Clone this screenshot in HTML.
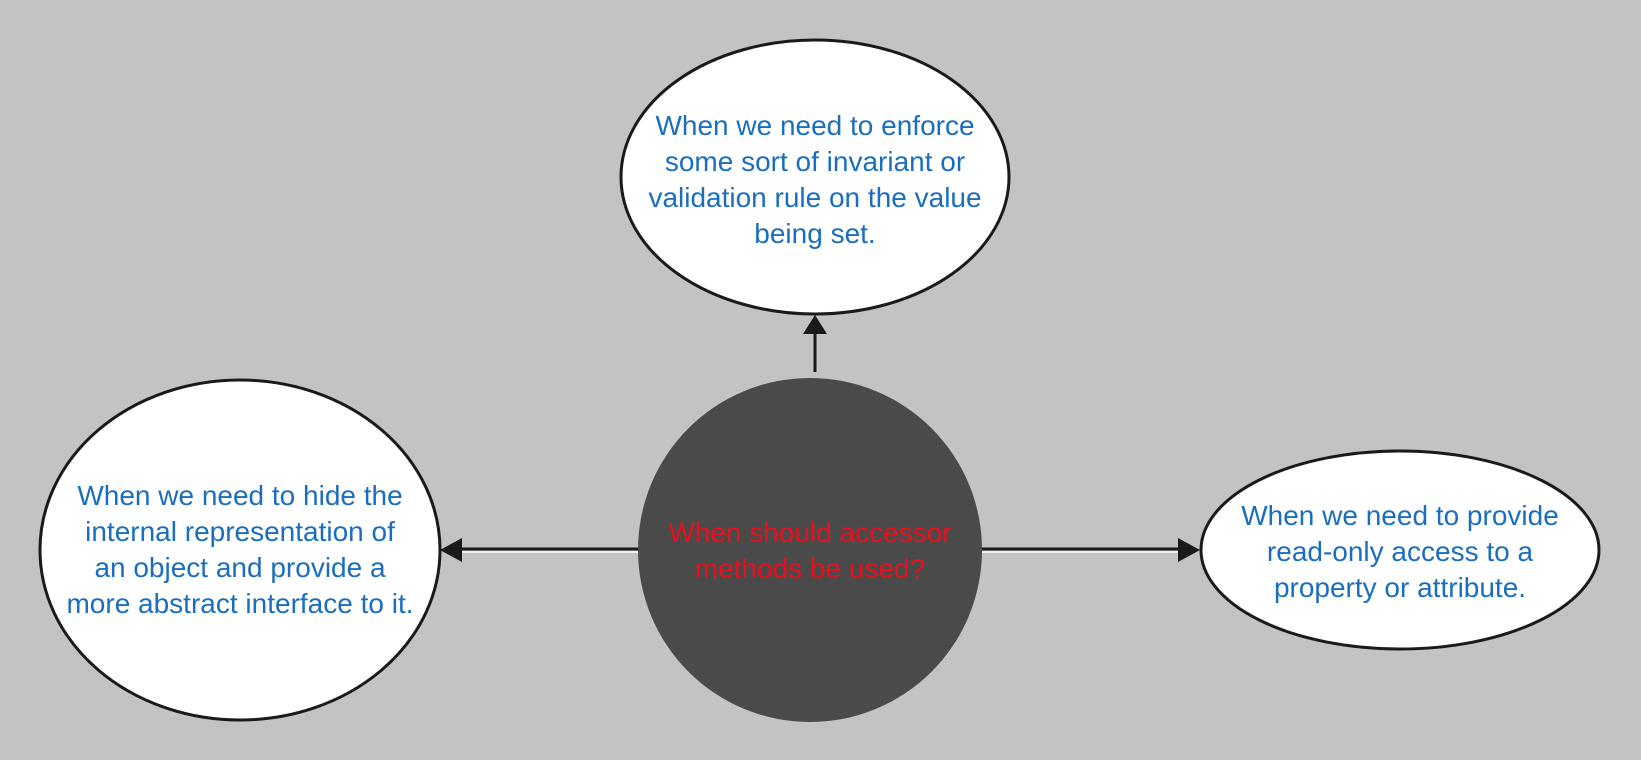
<!DOCTYPE html>
<html><head><meta charset="utf-8"><style>
html,body{margin:0;padding:0;background:#c3c3c3;}
svg{display:block;}
text{font-family:"Liberation Sans",sans-serif;font-size:28px;text-anchor:middle;}
.b{fill:#1a6ebd;}
.r{fill:#e8101e;}
</style></head><body>
<svg width="1641" height="760" viewBox="0 0 1641 760">
<rect width="1641" height="760" fill="#c3c3c3"/>
<g>
<line x1="815" y1="372" x2="815" y2="320" stroke="#1a1a1a" stroke-width="3"/>
<path d="M803,334 L815,315 L827,334 z" fill="#1a1a1a"/>
</g>
<g>
<line x1="640" y1="549" x2="450" y2="549" stroke="#1a1a1a" stroke-width="3"/>
<line x1="640" y1="552" x2="450" y2="552" stroke="#ffffff" stroke-width="1.5"/>
<path d="M462,538 L440,550 L462,562 z" fill="#1a1a1a"/>
</g>
<g>
<line x1="980" y1="549" x2="1190" y2="549" stroke="#1a1a1a" stroke-width="3"/>
<line x1="980" y1="552" x2="1190" y2="552" stroke="#ffffff" stroke-width="1.5"/>
<path d="M1178,538 L1200,550 L1178,562 z" fill="#1a1a1a"/>
</g>
<g>
<ellipse cx="815" cy="177" rx="194" ry="137" fill="#fff" stroke="#1a1a1a" stroke-width="3"/>
<text class="b" x="815" y="135">When we need to enforce</text>
<text class="b" x="815" y="171">some sort of invariant or</text>
<text class="b" x="815" y="207">validation rule on the value</text>
<text class="b" x="815" y="243">being set.</text>
</g>
<g>
<ellipse cx="240" cy="550" rx="200" ry="170" fill="#fff" stroke="#1a1a1a" stroke-width="3"/>
<text class="b" x="240" y="505">When we need to hide the</text>
<text class="b" x="240" y="541">internal representation of</text>
<text class="b" x="240" y="577">an object and provide a</text>
<text class="b" x="240" y="613">more abstract interface to it.</text>
</g>
<g>
<ellipse cx="1400" cy="550" rx="199" ry="99" fill="#fff" stroke="#1a1a1a" stroke-width="3"/>
<text class="b" x="1400" y="525">When we need to provide</text>
<text class="b" x="1400" y="561">read-only access to a</text>
<text class="b" x="1400" y="597">property or attribute.</text>
</g>
<g>
<circle cx="810" cy="550" r="172" fill="#4a4a4a"/>
<text class="r" x="810" y="542">When should accessor</text>
<text class="r" x="810" y="578">methods be used?</text>
</g>
</svg>
</body></html>
